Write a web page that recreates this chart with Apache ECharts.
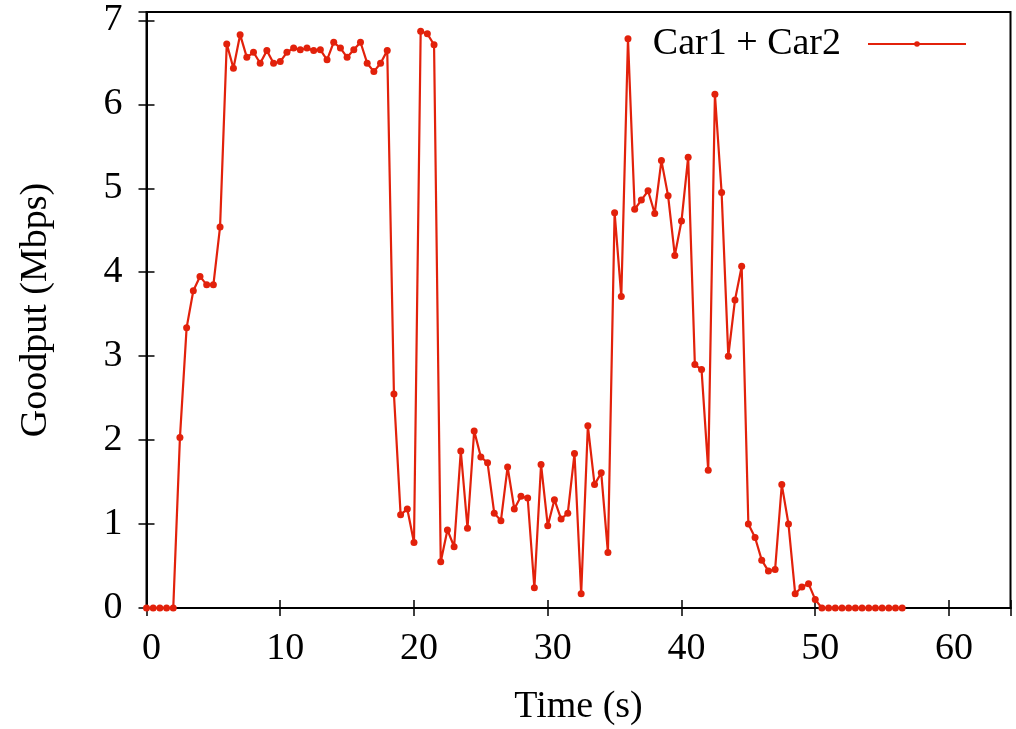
<!DOCTYPE html>
<html>
<head>
<meta charset="utf-8">
<script src="https://cdn.jsdelivr.net/npm/echarts@6/dist/echarts.min.js"></script>
<style>
html,body{margin:0;padding:0;background:#fff;}
#chart{width:1016px;height:729px;}
</style>
</head>
<body>
<div id="chart"></div>
<script>
const seriesName = 'Car1 + Car2';
const times = [
  0, 0.5, 1, 1.5, 2, 2.5, 3, 3.5, 4, 4.5, 5, 5.5, 6, 6.5, 7, 7.5, 8, 8.5, 9, 9.5,
  10, 10.5, 11, 11.5, 12, 12.5, 13, 13.5, 14, 14.5, 15, 15.5, 16, 16.5, 17, 17.5, 18, 18.5, 19, 19.5,
  20, 20.5, 21, 21.5, 22, 22.5, 23, 23.5, 24, 24.5, 25, 25.5, 26, 26.5, 27, 27.5, 28, 28.5, 29, 29.5,
  30, 30.5, 31, 31.5, 32, 32.5, 33, 33.5, 34, 34.5, 35, 35.5, 36, 36.5, 37, 37.5, 38, 38.5, 39, 39.5,
  40, 40.5, 41, 41.5, 42, 42.5, 43, 43.5, 44, 44.5, 45, 45.5, 46, 46.5, 47, 47.5, 48, 48.5, 49, 49.5,
  50, 50.5, 51, 51.5, 52, 52.5, 53, 53.5, 54, 54.5, 55, 55.5, 56, 56.5
];
const goodput = [
  0, 0, 0, 0, 0, 2.03, 3.34, 3.78, 3.95, 3.85, 3.85, 4.54, 6.72, 6.43, 6.83, 6.56, 6.62, 6.49, 6.64, 6.49,
  6.51, 6.62, 6.67, 6.65, 6.67, 6.64, 6.65, 6.53, 6.74, 6.67, 6.56, 6.65, 6.74, 6.49, 6.39, 6.49, 6.64, 2.55, 1.11, 1.18,
  0.78, 6.87, 6.84, 6.71, 0.55, 0.93, 0.73, 1.87, 0.95, 2.11, 1.80, 1.73, 1.13, 1.04, 1.68, 1.18, 1.33, 1.31, 0.24, 1.71,
  0.98, 1.29, 1.06, 1.13, 1.84, 0.17, 2.17, 1.47, 1.61, 0.66, 4.71, 3.71, 6.78, 4.75, 4.86, 4.97, 4.70, 5.33, 4.91, 4.20,
  4.61, 5.37, 2.90, 2.84, 1.64, 6.12, 4.95, 3.00, 3.67, 4.07, 1.00, 0.84, 0.57, 0.44, 0.46, 1.47, 1.00, 0.17, 0.25, 0.29,
  0.10, 0, 0, 0, 0, 0, 0, 0, 0, 0, 0, 0, 0, 0
];
const xTicks = [0, 10, 20, 30, 40, 50, 60];
const yTicks = [0, 1, 2, 3, 4, 5, 6, 7];
const xTitle = 'Time (s)';
const yTitle = 'Goodput (Mbps)';

const FONT = '"Liberation Serif", "DejaVu Serif", serif';
const RED = '#e2210b';
const points = times.map((t, i) => [t, goodput[i]]);

const axisLineStyle = { color: '#000', width: 2 };
const chart = echarts.init(document.getElementById('chart'), null, { renderer: 'canvas' });
chart.setOption({
  animation: false,
  backgroundColor: '#fff',
  textStyle: { fontFamily: FONT },
  grid: { left: 146.5, right: 5.5, top: 12, bottom: 121, containLabel: false, outerBoundsMode: 'none',
          show: true, borderColor: '#000', borderWidth: 2 },
  legend: {
    show: true,
    right: 44,
    top: 20,
    align: 'right',
    itemWidth: 98,
    itemHeight: 7,
    textStyle: { fontFamily: FONT, fontSize: 38, color: '#000', padding: [0, 22, 0, 0] },
    data: [{ name: seriesName }]
  },
  xAxis: [{
    type: 'value', min: 0, max: 64.6, interval: 10, position: 'bottom',
    name: xTitle, nameLocation: 'middle', nameGap: 80,
    nameTextStyle: { fontFamily: FONT, fontSize: 38, color: '#000' },
    axisLine: { show: true, lineStyle: axisLineStyle },
    axisTick: { show: true, inside: true, length: 8, lineStyle: { color: '#000', width: 1.5 } },
    splitLine: { show: false },
    axisLabel: { margin: 22, fontFamily: FONT, fontSize: 38, color: '#000', padding: [0, 0, 0, 10],
      formatter: v => (xTicks.indexOf(v) >= 0 ? String(v) : '') }
  }, {
    type: 'value', min: 0, max: 64.6, interval: 10, position: 'top',
    axisLine: { show: true, lineStyle: axisLineStyle },
    axisTick: { show: true, inside: true, length: 8, lineStyle: { color: '#000', width: 1.5 } },
    splitLine: { show: false },
    axisLabel: { show: false }
  }],
  yAxis: [{
    type: 'value', min: 0, max: 7.1, interval: 1, position: 'left',
    name: yTitle, nameLocation: 'middle', nameGap: 91, nameRotate: 90,
    nameTextStyle: { fontFamily: FONT, fontSize: 38, color: '#000' },
    axisLine: { show: true, lineStyle: axisLineStyle },
    axisTick: { show: true, inside: true, length: 8, lineStyle: { color: '#000', width: 1.5 } },
    splitLine: { show: false },
    axisLabel: { margin: 24, fontFamily: FONT, fontSize: 38, color: '#000',
      formatter: v => (yTicks.indexOf(v) >= 0 ? String(v) : '') }
  }, {
    type: 'value', min: 0, max: 7.1, interval: 1, position: 'right',
    axisLine: { show: true, lineStyle: axisLineStyle },
    axisTick: { show: true, inside: true, length: 8, lineStyle: { color: '#000', width: 1.5 } },
    splitLine: { show: false },
    axisLabel: { show: false }
  }],
  series: [{
    name: seriesName,
    type: 'line',
    xAxisIndex: 0, yAxisIndex: 0,
    data: points,
    symbol: 'circle',
    symbolSize: 7,
    showSymbol: true,
    clip: false,
    lineStyle: { color: RED, width: 2.2 },
    itemStyle: { color: RED },
    emphasis: { disabled: true }
  }]
});
</script>
</body>
</html>
